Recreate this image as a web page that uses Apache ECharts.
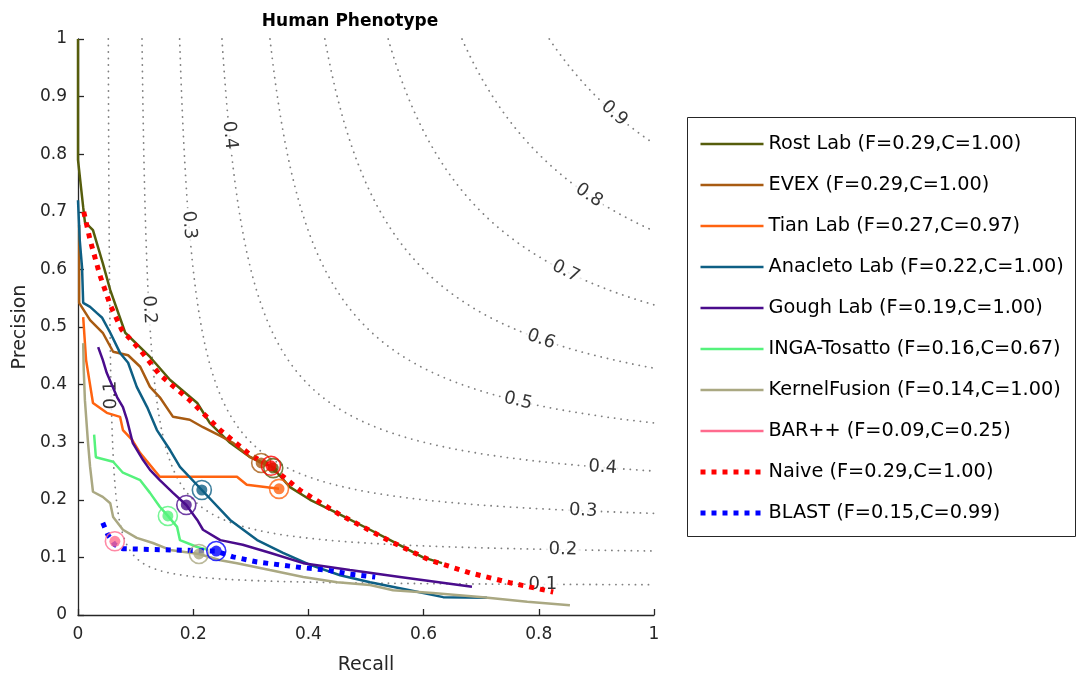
<!DOCTYPE html>
<html><head><meta charset="utf-8">
<script src="https://cdn.jsdelivr.net/npm/echarts@6/dist/echarts.min.js"></script>
<style>html,body{margin:0;padding:0;background:#fff}#c{width:1076px;height:681px}</style>
</head><body><div id="c"></div>
<script>
// ---- data: [recall, precision] pairs ----
const seriesNames = ['Rost Lab','EVEX','Tian Lab','Anacleto Lab','Gough Lab','INGA-Tosatto','KernelFusion','BAR++','Naive','BLAST'];
const seriesScores = ['(F=0.29,C=1.00)','(F=0.29,C=1.00)','(F=0.27,C=0.97)','(F=0.22,C=1.00)','(F=0.19,C=1.00)','(F=0.16,C=0.67)','(F=0.14,C=1.00)','(F=0.09,C=0.25)','(F=0.29,C=1.00)','(F=0.15,C=0.99)'];

const rostLab = [[0,1],[0,0.79],[0.009,0.708],[0.012,0.682],[0.026,0.668],[0.043,0.611],[0.056,0.564],[0.082,0.49],[0.125,0.448],[0.16,0.408],[0.207,0.368],[0.229,0.333],[0.264,0.299],[0.299,0.274],[0.337,0.257],[0.368,0.222],[0.403,0.2],[0.45,0.177],[0.507,0.148],[0.542,0.13],[0.599,0.1],[0.632,0.09]];
const evex = [[0.002,0.677],[0.002,0.542],[0.021,0.512],[0.043,0.49],[0.061,0.457],[0.087,0.451],[0.108,0.431],[0.125,0.396],[0.142,0.378],[0.165,0.344],[0.194,0.339],[0.217,0.326],[0.247,0.311],[0.269,0.299],[0.299,0.274],[0.318,0.264]];
const tianLab = [[0.009,0.517],[0.014,0.443],[0.026,0.368],[0.05,0.351],[0.073,0.344],[0.078,0.321],[0.094,0.304],[0.108,0.281],[0.142,0.24],[0.276,0.24],[0.293,0.226],[0.349,0.219]];
const anacletoLab = [[0,0.72],[0.003,0.651],[0.007,0.604],[0.009,0.542],[0.021,0.535],[0.033,0.524],[0.042,0.516],[0.056,0.49],[0.073,0.455],[0.087,0.438],[0.102,0.396],[0.12,0.361],[0.137,0.321],[0.16,0.286],[0.177,0.257],[0.215,0.217],[0.264,0.165],[0.311,0.13],[0.356,0.108],[0.403,0.087],[0.455,0.069],[0.507,0.057],[0.576,0.043],[0.634,0.031],[0.71,0.03]];
const goughLab = [[0.035,0.465],[0.043,0.443],[0.05,0.42],[0.068,0.378],[0.078,0.361],[0.085,0.339],[0.095,0.299],[0.113,0.269],[0.125,0.252],[0.142,0.234],[0.165,0.212],[0.188,0.191],[0.207,0.165],[0.217,0.148],[0.247,0.13],[0.286,0.122],[0.333,0.108],[0.391,0.09],[0.472,0.078],[0.559,0.066],[0.684,0.049]];
const ingaTosatto = [[0.028,0.313],[0.031,0.274],[0.061,0.266],[0.078,0.247],[0.108,0.234],[0.125,0.212],[0.142,0.188],[0.156,0.172],[0.172,0.153],[0.177,0.13],[0.207,0.118],[0.226,0.113]];
const kernelFusion = [[0.009,0.472],[0.01,0.425],[0.012,0.373],[0.017,0.304],[0.021,0.257],[0.026,0.214],[0.043,0.205],[0.056,0.194],[0.061,0.17],[0.078,0.148],[0.102,0.134],[0.13,0.125],[0.16,0.113],[0.21,0.106],[0.247,0.095],[0.276,0.09],[0.333,0.078],[0.391,0.066],[0.45,0.057],[0.507,0.052],[0.547,0.043],[0.616,0.038],[0.703,0.031],[0.78,0.023],[0.854,0.017]];
const barPlusPlus = [[0.064,0.128]];
const naive = [[0.01,0.70],[0.021,0.651],[0.038,0.59],[0.056,0.538],[0.076,0.495],[0.108,0.46],[0.142,0.417],[0.194,0.373],[0.247,0.321],[0.299,0.278],[0.333,0.259],[0.385,0.217],[0.455,0.174],[0.542,0.128],[0.611,0.095],[0.681,0.073],[0.75,0.056],[0.825,0.04]];
const blast = [[0.043,0.16],[0.052,0.139],[0.064,0.122],[0.078,0.115],[0.16,0.113],[0.24,0.111],[0.269,0.101],[0.311,0.092],[0.351,0.087],[0.391,0.082],[0.432,0.078],[0.472,0.071],[0.516,0.066]];
const curves = [rostLab, evex, tianLab, anacletoLab, goughLab, ingaTosatto, kernelFusion, barPlusPlus, naive, blast];

// best-F operating points (recall, precision)
const bestPoints = [[0.339,0.255],[0.318,0.264],[0.349,0.219],[0.215,0.217],[0.188,0.191],[0.156,0.172],[0.21,0.106],[0.064,0.128],[0.335,0.259],[0.24,0.111]];

// iso-F reference levels and where their labels sit
const isoF = [0.1,0.2,0.3,0.4,0.5,0.6,0.7,0.8,0.9];
const isoLabelsByRecall = [[0.9,0.931],[0.8,0.887],[0.7,0.847],[0.6,0.804],[0.5,0.764],[0.4,0.911],[0.3,0.877],[0.2,0.842],[0.1,0.807]];
const isoLabelsByPrecision = [[0.4,0.833],[0.3,0.677],[0.2,0.53],[0.1,0.382]];

// ---- styles ----
const colors = ['#565d0c','#a85b12','#ff6310','#0e5f84','#4a0c8c','#55f27c','#aaa882','#ff6b8e','#ff0000','#0000ff'];
const dotted = [false,false,false,false,false,false,false,false,true,true];
const FONT = 'DejaVu Sans';

function isoCurve(f){
  const r0 = f/(2-f), pts=[];
  for(let i=0;i<=400;i++){const t=i/400; const r=r0+(1-r0)*t*t; pts.push([r, f*r/(2*r-f)]);}
  return pts;
}
function slopeAngle(f,r){ const d=2*r-f; return Math.atan(-f*f/(d*d))*180/Math.PI; }

const series = [];
isoF.forEach(f=>{
  series.push({type:'line', data:isoCurve(f), showSymbol:false, symbol:'none', silent:true, z:1,
    lineStyle:{color:'#808080', width:1.8, type:[0.1,6.4], cap:'round'}, animation:false});
});
const labelData=[];
isoLabelsByRecall.forEach(([f,r])=>{ labelData.push({value:[r, f*r/(2*r-f)], name:String(f), rot:slopeAngle(f,r)}); });
isoLabelsByPrecision.forEach(([f,p])=>{ const r=f*p/(2*p-f); let a=slopeAngle(f,r); if(f===0.1) a+=180; labelData.push({value:[r,p], name:String(f), rot:a}); });
series.push({type:'scatter', silent:true, z:1, symbolSize:0, animation:false,
  data: labelData.map(d=>({value:d.value, name:d.name, label:{rotate:d.rot}})),
  label:{show:true, position:'inside', formatter:'{b}', color:'#000', fontFamily:FONT, fontSize:18, backgroundColor:'#fff', padding:[0,3]}});

seriesNames.forEach((n,i)=>{
  series.push({name:n+' '+seriesScores[i], type:'line', data:curves[i], showSymbol:false, symbol:'none', z:2+i, animation:false,
    lineStyle: dotted[i] ? {color:colors[i], width:5, type:[5,6], cap:'butt'} : {color:colors[i], width:2.5},
    itemStyle:{color:colors[i]}});
});
seriesNames.forEach((n,i)=>{
  series.push({name:'pt'+i, type:'scatter', silent:true, z:20+i, animation:false,
    data:[{value:bestPoints[i], symbolSize:19, itemStyle:{color:'rgba(0,0,0,0)', borderColor:colors[i], borderWidth:1.6}},
          {value:bestPoints[i], symbolSize:11, itemStyle:{color:colors[i]}}]});
});

const chart = echarts.init(document.getElementById('c'), null, {renderer:'canvas'});
chart.setOption({
  animation:false,
  backgroundColor:'#fff',
  title:{text:'Human Phenotype', left:345, top:8, textAlign:'center', textStyle:{fontFamily:FONT, fontSize:17, fontWeight:'bold', color:'#000'}},
  grid:{left:78, top:39, width:576, height:576},
  xAxis:{type:'value', min:0, max:1, interval:0.2, name:'Recall', nameLocation:'middle', nameGap:41,
    nameTextStyle:{fontFamily:FONT, fontSize:19, color:'#262626'},
    axisLine:{show:true, lineStyle:{color:'#262626', width:1.3}}, axisTick:{show:true, inside:true, length:6, lineStyle:{color:'#262626', width:1.3}},
    axisLabel:{fontFamily:FONT, fontSize:17, color:'#262626', margin:11, formatter:v=>String(v)}, splitLine:{show:false}},
  yAxis:{type:'value', min:0, max:1, interval:0.1, name:'Precision', nameLocation:'middle', nameGap:48,
    nameTextStyle:{fontFamily:FONT, fontSize:19, color:'#262626'},
    axisLine:{show:true, lineStyle:{color:'#262626', width:1.3}}, axisTick:{show:true, inside:true, length:6, lineStyle:{color:'#262626', width:1.3}},
    axisLabel:{fontFamily:FONT, fontSize:17, color:'#262626', margin:11, formatter:v=>String(Math.round(v*10)/10)}, splitLine:{show:false}},
  legend:{orient:'vertical', left:698, top:134, itemWidth:63, itemHeight:20, itemGap:21, padding:0, z:10,
    data: seriesNames.map((n,i)=>({name:n+' '+seriesScores[i]})),
    lineStyle:{width:'inherit'},
    itemStyle:{color:'rgba(0,0,0,0)', opacity:0, borderWidth:0},
    textStyle:{fontFamily:FONT, fontSize:19.3, lineHeight:20, color:'#000'}},
  graphic:[{type:'rect', shape:{x:687.5, y:117.5, width:388, height:419}, style:{fill:'#fff', stroke:'#262626', lineWidth:1}, z:0, silent:true}],
  series
});
</script></body></html>
